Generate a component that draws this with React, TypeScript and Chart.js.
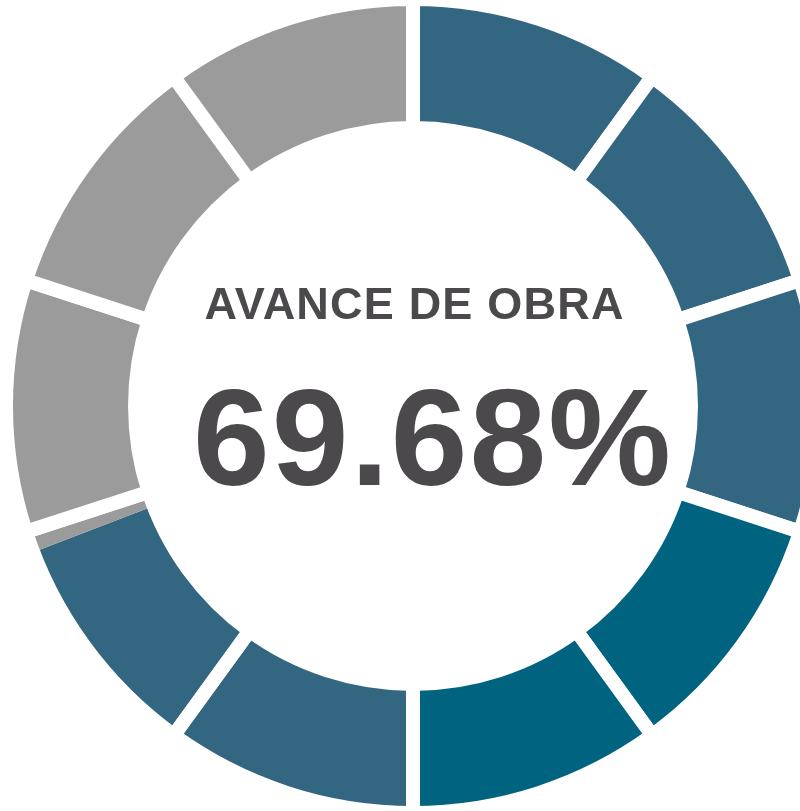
import React, { useEffect, useRef } from "react";
import { Chart, registerables } from "chart.js";

Chart.register(...registerables);

// ---- data ----
const SEGMENT_LABELS = ["1", "2", "3", "4", "5", "6", "7", "8", "9", "10"];
const SEGMENT_VALUES = [10, 10, 10, 10, 10, 10, 10, 10, 10, 10];
const PROGRESS_LABELS = ["Avance", "Restante"];
const PROGRESS_VALUES = [69.15, 30.85];
const TITLE_TEXT = "AVANCE DE OBRA";
const VALUE_TEXT = "69.68%";

// ---- styles ----
const BLUE = "#336680";
const TEAL = "#00637f";
const GRAY = "#9b9b9b";
const SEGMENT_COLORS = [BLUE, BLUE, BLUE, TEAL, TEAL, BLUE, "rgba(0,0,0,0)", GRAY, GRAY, GRAY];
const PROGRESS_COLORS = [BLUE, GRAY];
const TEXT_COLOR = "#4b494c";

const W = 826;
const H = 812;
const RADIUS = 407;
const CUTOUT = "68.3%";

const textPlugin = {
  id: "centerText",
  afterDatasetsDraw(chart: any) {
    const { ctx, chartArea } = chart;
    const cx = (chartArea.left + chartArea.right) / 2;
    const cy = (chartArea.top + chartArea.bottom) / 2;
    ctx.save();
    ctx.fillStyle = TEXT_COLOR;
    ctx.textAlign = "center";
    ctx.textBaseline = "alphabetic";
    ctx.font = "bold 45px 'Liberation Sans', Arial, sans-serif";
    (ctx as any).letterSpacing = "1.2px";
    ctx.fillText(TITLE_TEXT, cx + 1.5, cy - 87);
    ctx.font = "bold 138px 'Liberation Sans', Arial, sans-serif";
    (ctx as any).letterSpacing = "2px";
    ctx.fillText(VALUE_TEXT, cx + 20, cy + 79);
    ctx.restore();
  },
};

export default function App() {
  const baseRef = useRef<HTMLCanvasElement | null>(null);
  const topRef = useRef<HTMLCanvasElement | null>(null);

  useEffect(() => {
    const common = {
      responsive: false,
      maintainAspectRatio: false,
      animation: false as const,
      events: [] as any[],
      radius: RADIUS,
      cutout: CUTOUT,
      layout: { padding: 0 },
      plugins: { legend: { display: false }, tooltip: { enabled: false } },
    };

    const base = new Chart(baseRef.current as HTMLCanvasElement, {
      type: "doughnut",
      data: {
        labels: PROGRESS_LABELS,
        datasets: [
          {
            data: PROGRESS_VALUES,
            backgroundColor: PROGRESS_COLORS,
            borderWidth: 0,
          },
        ],
      },
      options: common as any,
    });

    const top = new Chart(topRef.current as HTMLCanvasElement, {
      type: "doughnut",
      data: {
        labels: SEGMENT_LABELS,
        datasets: [
          {
            data: SEGMENT_VALUES,
            backgroundColor: SEGMENT_COLORS,
            borderColor: "#ffffff",
            borderWidth: 14,
            borderJoinStyle: "miter",
            borderAlign: "center",
          } as any,
        ],
      },
      options: common as any,
      plugins: [textPlugin],
    });

    return () => {
      base.destroy();
      top.destroy();
    };
  }, []);

  const canvasStyle: React.CSSProperties = {
    position: "absolute",
    left: 0,
    top: 0,
    width: W,
    height: H,
    display: "block",
  };

  return (
    <div
      style={{
        position: "fixed",
        left: 0,
        top: 0,
        width: 800,
        height: 811,
        overflow: "hidden",
        background: "#ffffff",
      }}
    >
      <canvas ref={baseRef} width={W} height={H} style={canvasStyle} />
      <canvas ref={topRef} width={W} height={H} style={canvasStyle} />
    </div>
  );
}
